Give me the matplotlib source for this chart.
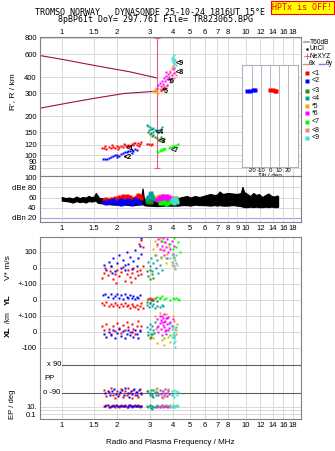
import numpy as np
import matplotlib
matplotlib.use('Agg')
import matplotlib.pyplot as plt
from matplotlib.ticker import NullLocator

plt.rcParams['font.family'] = ['Liberation Sans', 'DejaVu Sans']

W, H = 335, 451


def box(x0, y0, x1, y1):
    # pixel box -> figure fraction rect
    return [x0 / W, 1 - y1 / H, (x1 - x0) / W, (y1 - y0) / H]


# ---------------- data ----------------
freq_ticks = [1, 1.5, 2, 3, 4, 5, 6, 7, 8, 10, 12, 14, 16, 18]
freq_ticks_mid = [1, 1.5, 2, 3, 4, 5, 6, 7, 8, 9, 10, 12, 14, 16, 18]
height_ticks = [80, 90, 100, 120, 150, 200, 300, 400, 600, 800]

colors = {1: '#ff0000', 2: '#0000ff', 3: '#228b22', 4: '#00a0a0', 5: '#ffa500',
          6: '#ff00ff', 7: '#00ff00', 8: '#f08080', 9: '#40e0d0'}
tags = {1: '<1', 2: '<2', 3: '<3', 4: '<4', 5: '*5', 6: '*6', 7: '<7', 8: '<8', 9: '<9'}

# model curves (dark red)
upper_f = [0.75, 1.06, 1.47, 2.34, 3.28]
upper_h = [588, 540, 494, 439, 394]
lower_f = [0.75, 1.06, 1.5, 2.2, 3.28]
lower_h = [229, 251, 274, 299, 311]
ne_f = 3.28

# virtual heights of echoes (f MHz, h km)
hgt_pts = {
    1: [(1.65, 113), (1.7, 114), (1.75, 112), (1.8, 115), (1.85, 113), (1.9, 116), (1.95, 114),
        (2.0, 117), (2.05, 115), (2.1, 118), (2.15, 116), (2.2, 119), (2.25, 117), (2.3, 120),
        (2.35, 118), (2.4, 121), (2.45, 119), (2.5, 123), (2.55, 120), (2.6, 125), (2.65, 122),
        (2.7, 127), (1.72, 117), (1.88, 119), (2.02, 112), (2.18, 121), (2.32, 116), (2.48, 125),
        (2.62, 118), (2.9, 122), (2.97, 121), (3.05, 120), (3.1, 122)],
    2: [(1.68, 93), (1.72, 94), (1.76, 93), (1.8, 95), (1.85, 97), (1.9, 99), (1.95, 100),
        (2.0, 101), (2.05, 99), (2.1, 102), (2.15, 104), (2.2, 106), (2.25, 105), (2.3, 108),
        (2.35, 107), (2.4, 110), (2.45, 108), (2.5, 112), (2.55, 110), (2.0, 96), (2.2, 98),
        (2.4, 103)],
    3: [(2.95, 150), (3.0, 145), (3.05, 148), (3.1, 140), (3.2, 138), (3.3, 135), (3.4, 132),
        (3.5, 130), (3.55, 128), (3.45, 137), (3.15, 143), (3.6, 133)],
    4: [(2.9, 172), (2.95, 168), (3.0, 165), (3.05, 160), (3.1, 158), (3.15, 162), (3.2, 155),
        (3.25, 157), (3.3, 152), (3.35, 150), (3.4, 155), (3.45, 160), (3.5, 165), (2.98, 155),
        (3.12, 150)],
    5: [(3.15, 310), (3.2, 305), (3.25, 315), (3.3, 320), (3.35, 300), (3.4, 325), (3.45, 310),
        (3.5, 330), (3.55, 318), (3.6, 340), (3.65, 322), (3.7, 335), (3.22, 325), (3.75, 345)],
    6: [(3.3, 330), (3.35, 345), (3.4, 360), (3.45, 340), (3.5, 375), (3.55, 355), (3.6, 390),
        (3.65, 370), (3.7, 405), (3.75, 385), (3.8, 420), (3.85, 400), (3.9, 440), (3.95, 415),
        (4.0, 460), (4.05, 430), (3.45, 320), (3.6, 335), (3.75, 350), (3.9, 365), (4.1, 470),
        (3.7, 440)],
    7: [(3.3, 108), (3.35, 106), (3.4, 110), (3.45, 108), (3.5, 112), (3.55, 110), (3.6, 113),
        (3.65, 111), (3.85, 114), (3.9, 116), (3.95, 115), (4.0, 117), (4.05, 116), (4.1, 118),
        (4.2, 119), (4.3, 121)],
    8: [(3.8, 400), (3.85, 420), (3.9, 445), (3.95, 470), (4.0, 490), (4.05, 510), (4.1, 470),
        (4.15, 440), (4.2, 415), (4.05, 390), (3.95, 380)],
    9: [(3.95, 560), (4.0, 575), (4.05, 550), (4.1, 530), (4.15, 545), (4.0, 520), (4.1, 505),
        (4.2, 495), (4.05, 590), (3.98, 540)],
}
tag_pos = {1: (2.34, 113), 2: (2.29, 95), 3: (3.5, 128), 4: (3.4, 150), 5: (3.68, 312),
           6: (3.95, 372), 7: (4.1, 108), 8: (4.37, 437), 9: (4.37, 513)}

# tilt inset (deg, km)
tilt_pts = {2: [(-25, 310), (-22, 313), (-19, 318), (-17, 320)],
            1: [(0, 318), (3, 315), (5, 312), (7, 314)]}

# amplitude (dBe) band of all echoes
amp_f = [1.00, 1.05, 1.10, 1.15, 1.20, 1.25, 1.30, 1.35, 1.40, 1.45, 1.50, 1.53, 1.56, 1.60,
         1.70, 1.80, 1.90, 2.00, 2.20, 2.40, 2.60, 2.70, 2.75, 2.80, 2.90, 3.00, 3.30, 3.60,
         4.00, 4.30, 4.50, 4.80, 5.00, 5.30, 5.60, 6.00, 6.40, 6.80, 7.00, 7.20, 7.50, 8.00,
         8.50, 9.00, 9.40, 9.60, 9.80, 10.2, 10.6, 11.0, 11.4, 11.8, 12.3, 12.8, 13.3, 13.8,
         14.3, 14.8, 15.0]
amp_lo = [54, 53, 52, 50, 53, 51, 52, 50, 53, 52, 53, 54, 50, 49, 48, 47, 46, 46, 46, 45, 46,
          47, 47, 45, 44, 44, 43, 44, 44, 44, 45, 45, 44, 46, 45, 45, 44, 45, 44, 45, 44, 44,
          45, 44, 43, 42, 41, 41, 42, 41, 42, 41, 41, 42, 41, 42, 41, 41, 42]
amp_hi = [61, 59, 60, 58, 62, 59, 61, 60, 63, 61, 62, 69, 65, 59, 58, 57, 56, 57, 56, 57, 58,
          59, 78, 57, 56, 56, 55, 56, 56, 59, 61, 63, 60, 63, 61, 64, 67, 65, 66, 72, 67, 69,
          68, 67, 69, 81, 71, 67, 63, 69, 65, 67, 61, 65, 68, 63, 62, 64, 63]
noise_level = 20

amp_pts = {
    1: [(1.7, 55), (1.75, 57), (1.8, 54), (1.85, 58), (1.9, 56), (1.95, 60), (2.0, 57), (2.05, 62),
        (2.1, 59), (2.15, 63), (2.2, 60), (2.25, 64), (2.3, 58), (2.35, 61), (2.45, 57), (2.5, 60),
        (2.55, 62), (2.6, 65), (2.65, 63), (2.7, 60), (1.8, 52), (2.2, 55), (2.4, 54)],
    2: [(1.7, 52), (1.75, 50), (1.8, 53), (1.85, 51), (1.9, 55), (1.95, 52), (2.0, 50), (2.05, 54),
        (2.1, 56), (2.15, 51), (2.2, 53), (2.25, 49), (2.3, 55), (2.35, 52), (2.4, 50), (2.45, 54),
        (2.5, 57), (2.55, 51), (2.6, 53), (2.65, 50), (2.1, 48), (2.4, 47)],
    3: [(2.9, 54), (2.95, 52), (3.0, 55), (3.05, 51)],
    4: [(2.9, 58), (2.95, 62), (3.0, 66), (3.05, 68), (3.1, 63), (3.15, 60), (3.2, 57)],
    5: [(3.3, 62), (3.4, 64), (3.5, 63), (3.6, 61), (3.7, 64)],
    6: [(3.3, 55), (3.35, 58), (3.4, 61), (3.45, 56), (3.5, 60), (3.55, 63), (3.6, 57), (3.65, 62),
        (3.7, 59), (3.75, 64), (3.8, 58), (3.85, 61), (3.9, 56), (3.95, 60), (3.4, 53), (3.6, 54),
        (3.8, 53)],
    7: [(3.4, 50), (3.5, 49), (3.6, 51), (3.7, 48), (3.8, 50), (3.9, 52), (4.2, 60)],
    8: [(4.0, 58), (4.1, 60), (4.2, 57)],
    9: [(3.95, 55), (4.0, 52), (4.05, 57), (4.1, 50), (4.15, 54), (4.2, 56), (4.25, 51)],
}

# Doppler velocity V* (m/s)
vstar_pts = {
    1: [(1.65, -60), (1.7, -30), (1.72, 0), (1.78, -45), (1.82, -20), (1.86, 10), (1.9, -70),
        (1.95, -35), (2.0, -10), (2.05, -50), (2.1, -25), (2.15, 5), (2.2, -80), (2.25, -40),
        (2.3, -15), (2.35, -55), (2.4, -30), (2.45, 0), (2.5, -65), (2.55, -20), (2.6, -45),
        (2.65, -10), (2.7, -35), (2.75, 15), (1.98, -95), (2.38, -85), (2.62, 150), (2.7, 175),
        (2.75, 130)],
    2: [(1.7, 20), (1.75, -10), (1.8, 40), (1.85, 10), (1.9, 60), (1.95, -20), (2.0, 30),
        (2.05, 80), (2.1, 0), (2.15, 50), (2.2, -15), (2.25, 100), (2.3, 25), (2.35, 70),
        (2.4, -5), (2.45, 45), (2.5, 110), (2.55, 15), (2.6, 65), (2.65, 140), (2.7, 90),
        (2.68, 185), (1.88, -30), (2.22, 20)],
    3: [(2.92, -20), (2.95, -50), (3.0, -10), (3.03, -70), (3.08, -40), (3.12, -60)],
    4: [(2.95, 40), (3.0, 10), (3.05, 60), (3.1, -20), (3.15, 30), (3.2, 80), (3.25, 0),
        (3.3, 50), (3.35, -30), (3.4, 20), (3.45, 70), (3.5, -10)],
    5: [(3.15, 120), (3.2, 170), (3.25, 80), (3.3, 140), (3.4, 190), (3.45, 60), (3.5, 110),
        (3.6, 160), (3.7, 30), (3.75, 90), (3.85, 130), (3.95, 20), (4.0, 70)],
    6: [(3.3, 150), (3.35, 180), (3.4, 120), (3.45, 170), (3.5, 140), (3.55, 190), (3.6, 110),
        (3.65, 160), (3.7, 130), (3.75, 180), (3.8, 100), (3.85, 150), (3.9, 120), (3.95, 170),
        (4.0, 90), (4.05, 140), (3.6, 80), (3.75, 60)],
    7: [(3.5, 170), (3.9, 150), (4.0, 120), (4.1, 185), (4.2, 130), (4.3, 160), (4.4, 100),
        (3.7, 60)],
    8: [(3.95, 40), (4.05, 10), (4.1, 60), (4.15, -5), (4.2, 30), (4.0, 80)],
    9: [(3.9, 60), (3.95, 90), (4.0, 30), (4.05, 70), (4.1, 10), (4.15, 50), (4.2, 80),
        (4.25, 20)],
}

# echo location YL (km)
yl_pts = {
    1: [(1.65, -20), (1.7, -30), (1.75, -15), (1.8, -35), (1.85, -25), (1.9, -40), (1.95, -20),
        (2.0, -30), (2.05, -45), (2.1, -25), (2.15, -35), (2.2, -20), (2.25, -40), (2.3, -30),
        (2.35, -50), (2.4, -25), (2.45, -35), (2.5, -45), (2.55, -30), (2.6, -55), (2.65, -40),
        (2.7, -20), (2.75, -50), (2.95, 5), (3.0, 10), (3.05, 0), (3.1, 8), (3.15, 3)],
    2: [(1.68, 30), (1.72, 40), (1.78, 20), (1.85, 35), (1.9, 10), (1.95, 25), (2.0, 40),
        (2.05, 15), (2.1, 30), (2.15, 5), (2.2, 35), (2.25, 20), (2.3, 10), (2.35, 30),
        (2.4, 15), (2.45, 25), (2.5, 5), (2.55, 20), (2.6, 10), (2.65, 30)],
    3: [(2.9, -10), (2.95, 5), (3.0, -20), (3.1, 0), (3.2, 15), (3.3, -5), (3.4, 10)],
    4: [(2.92, -30), (2.97, -45), (3.02, -20), (3.08, -40), (3.15, -25), (3.22, -50), (3.3, -35),
        (3.4, -45), (3.5, -30), (3.55, -40)],
    7: [(3.3, 20), (3.4, 10), (3.5, 25), (3.6, 5), (3.7, 15), (3.9, 0), (4.0, 10), (4.1, 5),
        (4.2, 12), (4.3, 8), (4.35, 2)],
}

# echo location XL (km)
xl_pts = {
    1: [(1.65, 40), (1.7, 10), (1.75, 50), (1.8, 20), (1.85, -10), (1.9, 35), (1.95, 5),
        (2.0, 55), (2.05, 25), (2.1, -5), (2.15, 45), (2.2, 15), (2.25, 60), (2.3, 30), (2.35, 0),
        (2.4, 50), (2.45, 20), (2.5, -15), (2.55, 40), (2.6, 70), (2.65, 10), (2.7, 35)],
    2: [(1.7, -10), (1.75, -30), (1.8, 0), (1.85, -20), (1.9, 10), (1.95, -35), (2.0, -5),
        (2.05, 20), (2.1, -25), (2.15, 5), (2.2, -40), (2.25, -10), (2.3, 15), (2.35, -20),
        (2.4, 0), (2.45, -30), (2.5, 10), (2.55, -15), (2.6, -35), (2.65, 5)],
    3: [(2.95, -20), (3.0, -40), (3.05, -30), (3.1, -10)],
    4: [(2.92, 30), (2.95, 0), (3.0, 50), (3.02, 20), (3.05, -10), (3.1, 40), (3.15, 10),
        (3.2, 60), (3.18, -5)],
    5: [(3.15, -40), (3.2, 100), (3.3, -70), (3.4, 120), (3.5, -50), (3.6, -80), (3.7, 115),
        (3.8, -30), (3.9, -60), (4.0, 100), (4.05, -20), (3.25, 20)],
    6: [(3.3, 80), (3.35, 40), (3.4, 100), (3.45, 20), (3.5, 60), (3.55, 90), (3.6, 30),
        (3.65, 70), (3.7, 10), (3.75, 50), (3.8, 95), (3.85, 25), (3.9, 65), (3.35, 0),
        (3.45, 75), (3.55, 45), (3.65, 5), (3.75, 85), (3.85, 55), (3.5, -20), (3.6, 110),
        (3.7, -10), (3.4, 55), (3.8, 15), (3.3, 30), (3.95, 40), (4.0, 80), (3.6, 60),
        (3.7, 90), (3.5, 100)],
    7: [(3.6, -40), (3.9, -20), (4.2, 30)],
    8: [(4.0, 40), (4.1, 70), (4.15, 20), (4.2, -10), (4.25, 50), (4.1, -30)],
    9: [(3.9, 50), (3.95, 20), (4.0, -10), (4.05, -40), (4.1, -70), (4.0, 30), (4.05, 0),
        (4.1, -25), (4.15, -55), (4.12, -95), (3.95, -30), (4.2, 10)],
}

# polarization PP (deg)
pp_pts = {
    1: [(1.7, -70), (1.75, -110), (1.8, -85), (1.85, -60), (1.9, -100), (1.95, -120), (2.0, -75),
        (2.05, -95), (2.1, -65), (2.15, -115), (2.2, -80), (2.25, -105), (2.3, -60), (2.35, -90),
        (2.4, -120), (2.45, -70), (2.5, -100), (2.55, -85), (2.6, -115), (2.65, -65), (2.7, -95)],
    2: [(1.72, -90), (1.78, -75), (1.82, -105), (1.88, -80), (1.92, -65), (1.98, -95),
        (2.02, -110), (2.08, -85), (2.12, -70), (2.18, -100), (2.22, -60), (2.28, -90),
        (2.32, -115), (2.38, -75), (2.42, -95), (2.48, -65), (2.52, -85), (2.58, -105),
        (2.62, -70), (2.68, -90)],
    3: [(2.92, -75), (3.0, -90), (3.08, -110), (3.15, -70)],
    4: [(2.95, -80), (3.0, -105), (3.05, -70), (3.1, -95), (3.15, -115), (3.2, -85), (3.25, -100)],
    5: [(3.3, -60), (3.55, -120), (3.8, -65)],
    6: [(3.3, -85), (3.35, -105), (3.4, -70), (3.45, -95), (3.5, -115), (3.55, -80), (3.6, -100),
        (3.65, -65), (3.7, -90), (3.75, -110), (3.8, -80), (3.85, -95)],
    7: [(3.25, -65), (3.35, -95), (3.5, -75), (3.65, -110), (3.8, -70), (3.95, -100)],
    9: [(3.95, -80), (4.0, -100), (4.05, -70), (4.1, -115), (4.15, -90), (4.2, -75), (4.25, -105),
        (4.3, -85)],
}

# error parameter EP (deg)
ep_pts = {
    1: [(1.7, 12), (1.75, 25), (1.8, 8), (1.85, 15), (1.9, 30), (1.95, 10), (2.0, 18), (2.05, 6),
        (2.1, 22), (2.15, 12), (2.2, 35), (2.25, 9), (2.3, 16), (2.35, 28), (2.4, 7), (2.45, 14),
        (2.5, 20), (2.55, 11), (2.6, 26), (2.65, 8), (2.7, 15)],
    2: [(1.72, 14), (1.78, 20), (1.82, 10), (1.88, 16), (1.92, 12), (1.98, 24), (2.02, 15),
        (2.08, 11), (2.12, 19), (2.18, 13), (2.22, 17), (2.28, 10), (2.32, 21), (2.38, 14),
        (2.42, 12), (2.48, 18), (2.52, 15), (2.58, 11), (2.62, 16), (2.68, 13)],
    3: [(2.92, 15), (3.0, 20), (3.08, 12)],
    4: [(2.95, 8), (3.0, 12), (3.05, 5), (3.1, 3), (3.15, 10), (3.2, 6), (3.25, 14)],
    5: [(3.4, 6), (3.9, 25)],
    6: [(3.3, 10), (3.35, 16), (3.4, 7), (3.45, 13), (3.5, 20), (3.55, 9), (3.6, 15), (3.65, 11),
        (3.7, 18), (3.75, 8), (3.8, 14), (3.85, 10)],
    7: [(3.3, 20), (3.5, 12), (3.7, 25), (3.9, 16)],
    8: [(4.0, 8), (4.15, 12)],
    9: [(3.9, 15), (3.95, 10), (4.0, 20), (4.05, 12), (4.1, 18), (4.15, 9), (4.2, 14), (4.25, 22),
        (4.3, 11)],
}

# lower panel stacking (pseudo y units)
YL_OFF = -200
XL_OFF = -400


def pp_y(v):
    return -606.25 - (90 - np.asarray(v, float)) / 180 * 175


def ep_y(v):
    return -866 + (np.log10(np.asarray(v, float)) - 1) * 23.4


GRID = '#d9d9d9'
FRAME = '#808080'
TICK_FS = 5.5
MS = 1.8

fig = plt.figure(figsize=(W / 100, H / 100), dpi=100)


def freq_axis(ax, ticks):
    ax.set_xscale('log')
    ax.set_xlim(0.757, 20.1)
    ax.set_xticks(ticks)
    ax.set_xticklabels([('%g' % t) for t in ticks])
    ax.xaxis.set_minor_locator(NullLocator())
    ax.tick_params(length=0, labelsize=TICK_FS, pad=2)
    for s in ax.spines.values():
        s.set_color(FRAME)
        s.set_linewidth(0.8)
    ax.grid(True, color=GRID, lw=0.7)
    ax.set_axisbelow(True)


def scatter_groups(ax, groups, conv=lambda v: v, ms=MS):
    for k, pts in groups.items():
        f, v = zip(*pts)
        ax.plot(f, conv(np.asarray(v, float)), 's', ms=ms, mec='none', color=colors[k])


# ---------- top panel: heights ----------
ax_h = fig.add_axes(box(39.5, 37, 301.5, 176))
freq_axis(ax_h, freq_ticks)
ax_h.tick_params(labeltop=True, labelbottom=False)
ax_h.tick_params(axis='x', pad=0.5)
ax_h.set_yscale('log')
ax_h.set_ylim(69, 814)
ax_h.set_yticks(height_ticks)
ax_h.set_yticklabels([str(t) for t in height_ticks])
ax_h.yaxis.set_minor_locator(NullLocator())
ax_h.plot(upper_f, upper_h, color='#a01040', lw=0.8)
ax_h.plot(lower_f, lower_h, color='#a01040', lw=0.8)
ax_h.plot([ne_f, ne_f], [80, 805], color='#e0608a', lw=0.8)
ax_h.plot([ne_f, ne_f], [80, 805], '_', color='#e0608a', ms=4, mew=0.8)
scatter_groups(ax_h, hgt_pts, ms=2.0)
for k, (f, h) in tag_pos.items():
    ax_h.text(f, h, tags[k], fontsize=5.2, fontweight='bold', color='black',
              ha='center', va='center')
fig.text(13 / W, 1 - 92 / H, "R', R / km", rotation=90, fontsize=6, ha='center', va='center')

# tilt inset
ax_t = fig.add_axes(box(242, 65, 298, 167))
ax_t.set_xlim(-31, 31)
ax_t.set_yscale('log')
ax_t.set_ylim(80.8, 495)
ax_t.set_yticks([])
ax_t.yaxis.set_minor_locator(NullLocator())
ax_t.set_xticks([-20, -10, 0, 10, 20])
ax_t.set_xticklabels(['-20', '-10', '0', '10', '20'])
ax_t.tick_params(length=0, labelsize=4.3, pad=1)
ax_t.grid(True, axis='x', color='#b8b8c8', lw=0.7)
ax_t.set_xlabel('Tilt / deg', fontsize=4.5, labelpad=0)
for s in ax_t.spines.values():
    s.set_color('#b0b0c0')
    s.set_linewidth(0.8)
for k, pts in tilt_pts.items():
    t, h = zip(*pts)
    ax_t.plot(t, h, 's', ms=2.2, mec='none', color=colors[k])

# ---------- amplitude panel ----------
ax_a = fig.add_axes(box(39.5, 176, 301.5, 222.3))
freq_axis(ax_a, freq_ticks_mid)
ax_a.set_ylim(11, 102.6)
ax_a.set_yticks([100, 80, 60, 40, 20])
ax_a.set_yticklabels(['100', 'dBe 80', '60', '40', 'dBn 20'])
ax_a.grid(False, axis='y')
for lev in [40, 60, 80]:
    ax_a.axhline(lev, color=GRID, lw=0.7, zorder=0)
ax_a.axhline(noise_level, color='#a0a0e8', lw=0.8, zorder=0)
ax_a.fill_between(amp_f, amp_lo, amp_hi, color='black', lw=0.8)
scatter_groups(ax_a, amp_pts, ms=2.4)

# ---------- lower panel ----------
ax_l = fig.add_axes(box(39.5, 237, 301.5, 419))
freq_axis(ax_l, freq_ticks)
ax_l.set_ylim(-943.75, 193.75)
ax_l.set_yticks([100, 0, -100, -200, -300, -400, -500, float(ep_y(10)), float(ep_y(1)),
                 float(ep_y(0.1))])
ax_l.set_yticklabels(['100', '0', '+-100', '0', '+-100', '0', '-100', '10.', '', '0.1'])
for yv in [pp_y(90), pp_y(-90)]:
    ax_l.axhline(float(yv), xmin=0.087, color='#606060', lw=0.8)
ax_l.text(1.0, float(pp_y(90)), 'x 90', fontsize=TICK_FS, ha='right', va='center')
ax_l.text(0.98, float(pp_y(-90)), 'o -90', fontsize=TICK_FS, ha='right', va='center')
ax_l.text(0.80, float(pp_y(0)), 'PP', fontsize=TICK_FS, ha='left', va='center')
scatter_groups(ax_l, vstar_pts)
scatter_groups(ax_l, yl_pts, lambda v: v + YL_OFF)
scatter_groups(ax_l, xl_pts, lambda v: v + XL_OFF)
scatter_groups(ax_l, pp_pts, pp_y)
scatter_groups(ax_l, ep_pts, ep_y)
ax_l.set_xlabel('Radio and Plasma Frequency / MHz', fontsize=5.8, labelpad=7)

for txt, yy, fs in [('V* m/s', 268, 6), ('YL', 300, 6), ('/km', 318, 4.8), ('XL', 332, 6),
                    ('EP / deg', 404, 5.5)]:
    fig.text(8 / W if txt != 'EP / deg' else 13 / W, 1 - yy / H, txt, rotation=90,
             fontsize=fs, ha='center', va='center', fontweight='bold' if len(txt) == 2 else 'normal')

# ---------- header ----------
fig.text(150 / W, 1 - 12.5 / H, 'TROMSO NORWAY   DYNASONDE 25-10-24 1816UT 15\u00b0E',
         family='DejaVu Sans Mono', fontsize=6, ha='center', va='center')
fig.text(156 / W, 1 - 20 / H, '8pBP6It DoY= 297.761 File= TR823065.BPG',
         family='DejaVu Sans Mono', fontsize=6, ha='center', va='center')
fig.text(302.5 / W, 1 - 7.5 / H, 'HPTx is OFF!', family='DejaVu Sans Mono', fontsize=6,
         color='red', ha='center', va='center',
         bbox=dict(boxstyle='square,pad=0.2', fc='yellow', ec='red', lw=0.8))

# ---------- legend (right margin) ----------
ax_g = fig.add_axes([0, 0, 1, 1])
ax_g.set_xlim(0, W)
ax_g.set_ylim(H, 0)
ax_g.axis('off')
ax_g.plot([303.5, 309], [42, 42], color='#a0a0a0', lw=1.2)
ax_g.text(310, 42, 'T60dB', fontsize=4.8, va='center')
ax_g.plot([306.5], [49], 'o', ms=0.8, color='black')
ax_g.text(310, 49, 'UnCl', fontsize=4.8, va='center')
ax_g.plot([306.5], [56], '+', ms=4, mew=0.7, color='#e0608a')
ax_g.text(310, 56, 'NeXYZ', fontsize=4.8, va='center')
ax_g.plot([303, 308.5], [63.5, 63.5], color='#f08080', lw=1)
ax_g.text(309, 63.5, '\u03b8x', fontsize=4.8, va='center')
ax_g.plot([319, 325], [63.5, 63.5], color='#8080e0', lw=1)
ax_g.text(325.5, 63.5, '\u03b8y', fontsize=4.8, va='center')
leg_y = [73.3, 80.5, 90.7, 98.3, 106, 113.3, 121.7, 130, 137.7]
for k, yy in zip(range(1, 10), leg_y):
    ax_g.plot([306.7], [yy], 's', ms=2.6, mec='none', color=colors[k])
    ax_g.text(311.5, yy, tags[k], fontsize=5, va='center')

fig.savefig('out.png', dpi=100)
